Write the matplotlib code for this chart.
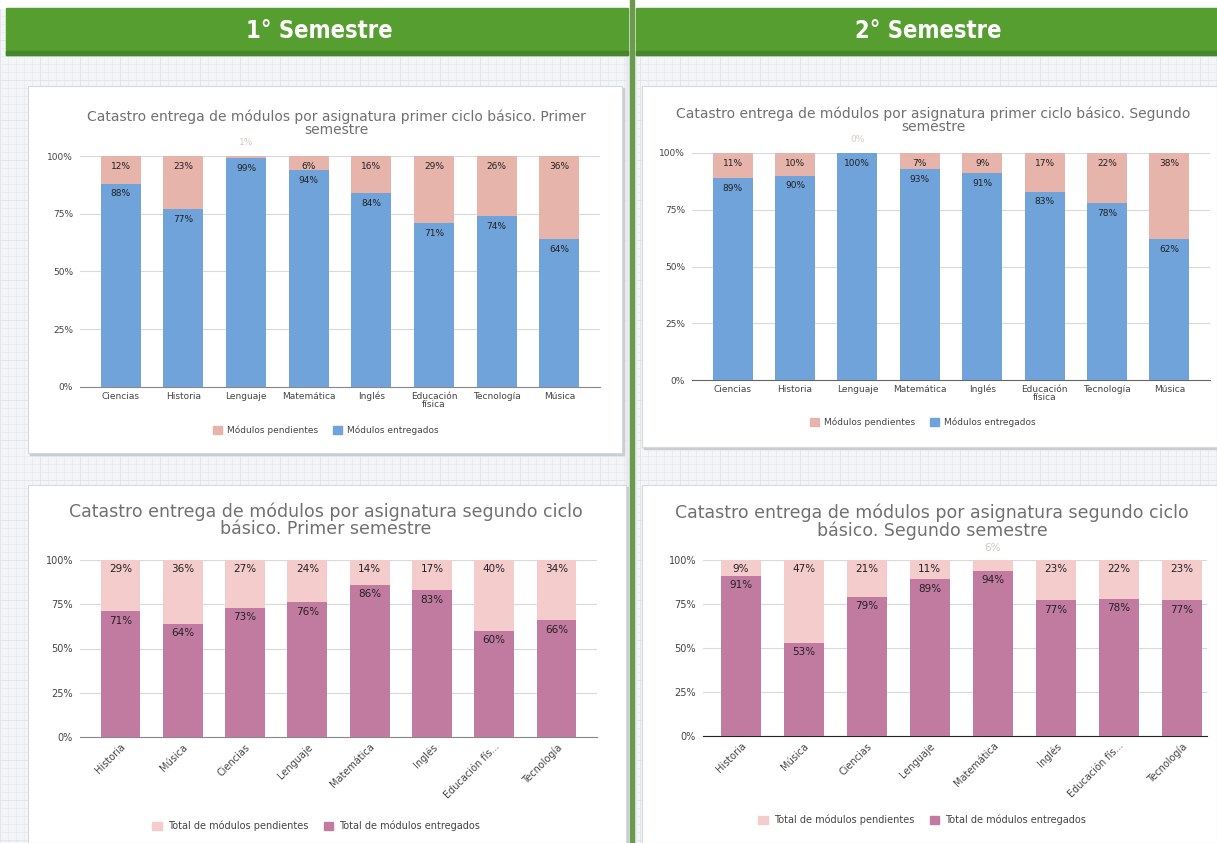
import numpy as np
import matplotlib
matplotlib.use("Agg")
from matplotlib import pyplot as plt
from matplotlib.patches import Rectangle

W, H = 1217, 843

# data: primer ciclo
cats_primer = ["Ciencias", "Historia", "Lenguaje", "Matemática", "Inglés",
               "Educación\nfísica", "Tecnología", "Música"]
entregados_p1 = [88, 77, 99, 94, 84, 71, 74, 64]
pendientes_p1 = [12, 23, 1, 6, 16, 29, 26, 36]
entregados_p2 = [89, 90, 100, 93, 91, 83, 78, 62]
pendientes_p2 = [11, 10, 0, 7, 9, 17, 22, 38]

# data: segundo ciclo
cats_segundo_1 = ["Historia", "Música", "Ciencias", "Lenguaje", "Matemática",
                  "Inglés", "Educación fís...", "Tecnología"]
entregados_s1 = [71, 64, 73, 76, 86, 83, 60, 66]
pendientes_s1 = [29, 36, 27, 24, 14, 17, 40, 34]
cats_segundo_2 = ["Historia", "Música", "Ciencias", "Lenguaje", "Matemática",
                  "Inglés", "Educación fís...", "Tecnología"]
entregados_s2 = [91, 53, 79, 89, 94, 77, 78, 77]
pendientes_s2 = [9, 47, 21, 11, 6, 23, 22, 23]

BLUE = "#6fa3d9"
SALMON = "#e6b4aa"
MAGENTA = "#c27ba0"
LIGHTPINK = "#f4cccc"

fig = plt.figure(figsize=(W / 100, H / 100), dpi=100)


def fx(x):
    return x / W


def fy(y):
    return 1 - y / H


def px_axes(x0, y0, x1, y1, **kw):
    return fig.add_axes([fx(x0), fy(y1), fx(x1 - x0), (y1 - y0) / H], **kw)


# grid paper background
bg = px_axes(0, 0, W, H)
bg.set_xlim(0, W)
bg.set_ylim(H, 0)
bg.axis("off")
bg.add_patch(Rectangle((0, 0), W, H, color="#f3f5f7", zorder=0))
for gx in np.arange(0, W, 8):
    bg.axvline(gx, color="#e6e9ee" if gx % 40 else "#dbe0e6", lw=0.5, zorder=1)
for gy in np.arange(0, H, 8):
    bg.axhline(gy, color="#e6e9ee" if gy % 40 else "#dbe0e6", lw=0.5, zorder=1)
bg.add_patch(Rectangle((0, 0), W, 8, color="white", zorder=2))

# banners
for x0, x1, label in [(6, 628, "1° Semestre"), (636, W, "2° Semestre")]:
    bg.add_patch(Rectangle((x0, 8), x1 - x0, 47, color="#559e2f", zorder=3))
    bg.add_patch(Rectangle((x0, 51), x1 - x0, 4, color="#44862a", zorder=3))
    bg.text((x0 + x1) / 2 + 2, 31, label, color="white", fontsize=17,
            fontweight="bold", fontstretch="condensed", family="DejaVu Sans",
            ha="center", va="center", zorder=4)

# separator
bg.add_patch(Rectangle((626, 55), 10, H - 55, color="#e8ebee", zorder=2))
bg.add_patch(Rectangle((630, 0), 3.5, H, color="#6b9a4c", zorder=3))

# cards
cards = [(28, 86, 622, 453), (642, 86, W, 447), (28, 485, 626, H), (642, 485, W, H)]
for x0, y0, x1, y1 in cards:
    bg.add_patch(Rectangle((x0 + 2, y0 + 2), x1 - x0, y1 - y0, color="#c9cdd2", zorder=4))
    bg.add_patch(Rectangle((x0, y0), x1 - x0, y1 - y0, facecolor="white",
                           edgecolor="#d5d8dc", lw=0.8, zorder=5))


def draw_chart(box, cats, entregados, pendientes, c_ent, c_pen, title, title_xy,
               title_size, leg_labels, leg_y, lab_size, tick_size, rotate, xlim,
               min_inside, base_color):
    ax = px_axes(*box)
    x = np.arange(len(cats))
    ax.bar(x, entregados, width=0.64, color=c_ent, zorder=3)
    ax.bar(x, pendientes, width=0.64, bottom=entregados, color=c_pen, zorder=3)
    for i in x:
        ax.text(i, entregados[i] - 2.5, f"{entregados[i]}%", ha="center", va="top",
                fontsize=lab_size, color="#222222", zorder=4)
        if pendientes[i] >= min_inside:
            ax.text(i, 97.5, f"{pendientes[i]}%", ha="center", va="top",
                    fontsize=lab_size, color="#222222", zorder=4)
        else:
            ax.text(i, 104, f"{pendientes[i]}%", ha="center", va="bottom",
                    fontsize=lab_size, color="#d8c8c4", zorder=4, clip_on=False)
    ax.set_ylim(0, 100)
    ax.set_xlim(*xlim)
    ax.set_yticks([0, 25, 50, 75, 100])
    ax.set_yticklabels(["0%", "25%", "50%", "75%", "100%"])
    ax.grid(axis="y", color="#d9d9d9", lw=0.8, zorder=0)
    for s in ["top", "right", "left"]:
        ax.spines[s].set_visible(False)
    ax.spines["bottom"].set_color(base_color)
    ax.tick_params(axis="both", length=0, labelsize=tick_size, colors="#444444")
    ax.tick_params(axis="y", pad=5)
    ax.set_xticks(x)
    if rotate:
        ax.set_xticklabels(cats, rotation=45, ha="right", rotation_mode="anchor")
    else:
        ax.set_xticklabels(cats, linespacing=0.9)
    ax.set_facecolor("none")
    h1 = Rectangle((0, 0), 1, 1, color=c_pen)
    h2 = Rectangle((0, 0), 1, 1, color=c_ent)
    fig.legend([h1, h2], leg_labels, loc="center", ncol=2, frameon=False,
               bbox_to_anchor=(fx(title_xy[0] - 10), fy(leg_y)), fontsize=tick_size,
               handlelength=1.0, handleheight=1.0, columnspacing=1.6,
               labelcolor="#444444", handletextpad=0.6)
    fig.text(fx(title_xy[0]), fy(title_xy[1]), title, ha="center", va="center",
             fontsize=title_size, color="#707070", linespacing=0.95)
    return ax


draw_chart((80, 156, 600, 387), cats_primer, entregados_p1, pendientes_p1, BLUE, SALMON,
           "Catastro entrega de módulos por asignatura primer ciclo básico. Primer\nsemestre",
           (336, 123), 10, ["Módulos pendientes", "Módulos entregados"], 430, 6.5, 6.5,
           False, (-0.65, 7.65), 5, "#888888")

draw_chart((692, 153, 1210, 380), cats_primer, entregados_p2, pendientes_p2, BLUE, SALMON,
           "Catastro entrega de módulos por asignatura primer ciclo básico. Segundo\nsemestre",
           (933, 120), 10, ["Módulos pendientes", "Módulos entregados"], 422, 6.5, 6.5,
           False, (-0.65, 7.65), 5, "#666666")

draw_chart((80, 560, 597, 737), cats_segundo_1, entregados_s1, pendientes_s1, MAGENTA, LIGHTPINK,
           "Catastro entrega de módulos por asignatura segundo ciclo\nbásico. Primer semestre",
           (326, 520), 12.5, ["Total de módulos pendientes", "Total de módulos entregados"], 826,
           7.5, 7, True, (-0.65, 7.65), 8, "#888888")

draw_chart((703, 560, 1207, 736), cats_segundo_2, entregados_s2, pendientes_s2, MAGENTA, LIGHTPINK,
           "Catastro entrega de módulos por asignatura segundo ciclo\nbásico. Segundo semestre",
           (932, 522), 12.5, ["Total de módulos pendientes", "Total de módulos entregados"], 820,
           7.5, 7, True, (-0.6, 7.4), 8, "#222222")

fig.savefig("out.png", dpi=100)
